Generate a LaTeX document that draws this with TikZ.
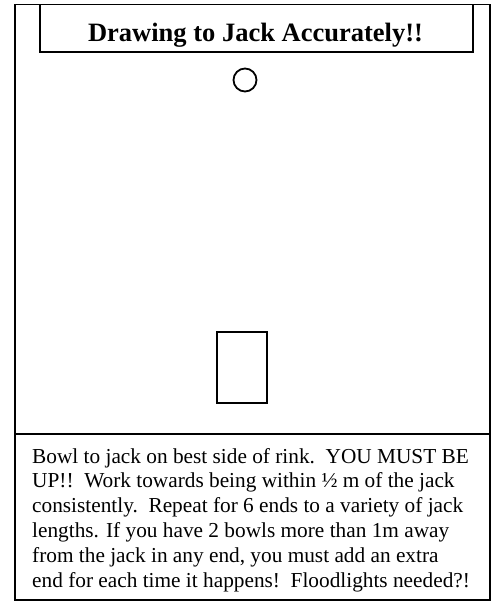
\documentclass[tikz,border=0pt]{standalone}
\usepackage{fontspec}
\setmainfont{Liberation Serif}
\begin{document}
\begin{tikzpicture}[x=1pt,y=-1pt,
  frame/.style={draw=black,line width=1.6pt},
  thickbox/.style={draw=black,line width=2.4pt},
  bodyline/.style={anchor=base west,inner sep=0pt,font=\fontsize{21.3}{25}\selectfont}]
\useasboundingbox (0,0) rectangle (495,602);
\draw[frame] (15,4.5) rectangle (490,600);
\draw[frame] (40,4.5) rectangle (473,52);
\draw[frame] (15,434) -- (490,434);
\node[anchor=base,inner sep=0pt,font=\fontsize{26.5}{30}\selectfont\bfseries] (title) at (255.5,41.5) {Drawing to Jack Accurately!!};
\node[draw=black,line width=1.8pt,circle,minimum size=23pt,inner sep=0pt] (jack) at (245,80) {};
\node[thickbox,rectangle,minimum width=50pt,minimum height=71pt,inner sep=0pt] (mat) at (242,367.5) {};
\node[bodyline] (l1) at (32,463) {Bowl to jack on best side of rink.\ \ YOU MUST BE};
\node[bodyline] (l2) at (32,487.8) {UP!!\ \ Work towards being within ½ m of the jack};
\node[bodyline] (l3) at (32,512.6) {consistently.\ \ Repeat for 6 ends to a variety of jack};
\node[bodyline] (l4) at (32,537.4) {lengths. If you have 2 bowls more than 1m away};
\node[bodyline] (l5) at (32,562.2) {from the jack in any end, you must add an extra};
\node[bodyline] (l6) at (32,587) {end for each time it happens!\ \ Floodlights needed?!};
\end{tikzpicture}
\end{document}
